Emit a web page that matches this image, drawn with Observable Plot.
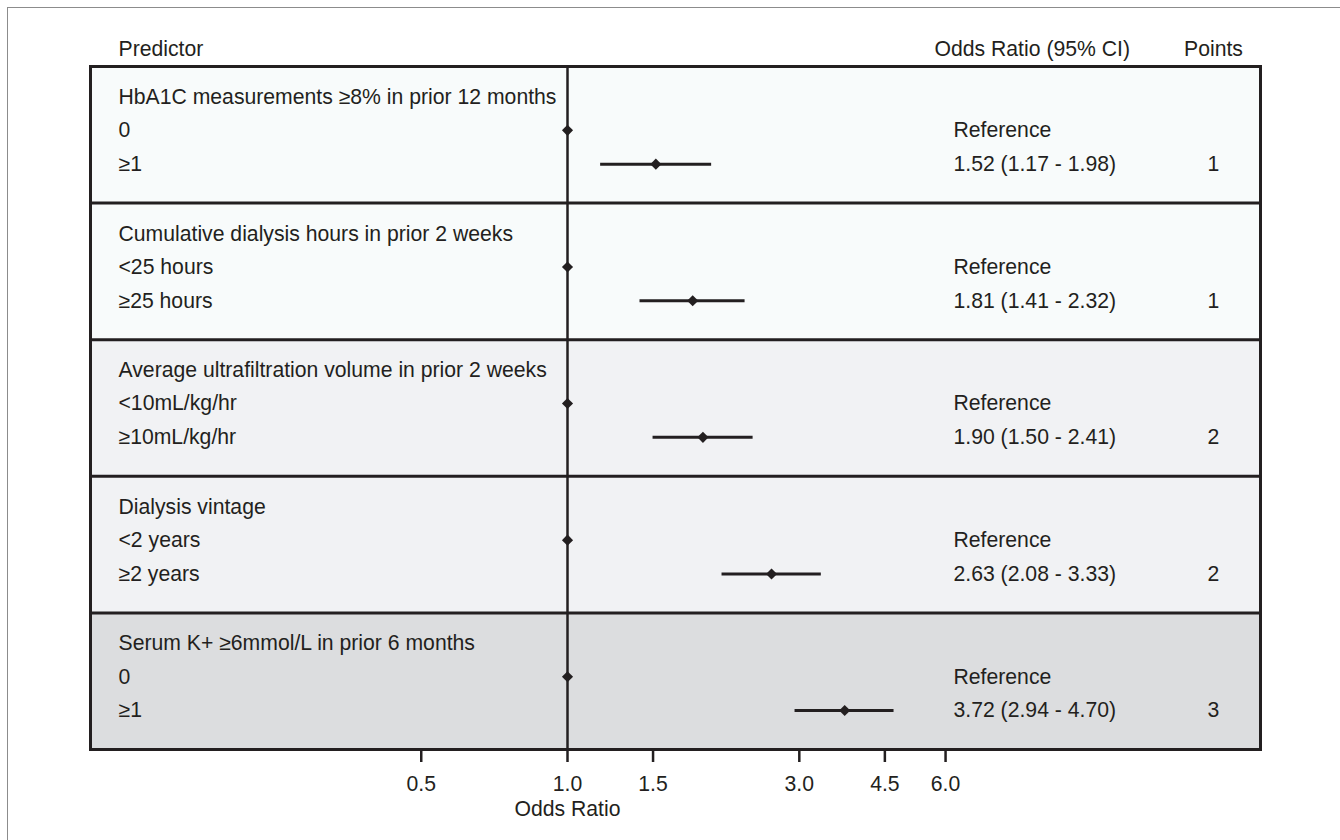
<!DOCTYPE html>
<html>
<head>
<meta charset="utf-8">
<script src="https://cdn.jsdelivr.net/npm/d3@7"></script>
<script src="https://cdn.jsdelivr.net/npm/@observablehq/plot@0.6"></script>
<style>
  body { margin: 0; background: #ffffff; }
  #wrap { position: relative; width: 1340px; height: 840px; overflow: hidden; }
  #border { position: absolute; left: 7px; top: 7px; right: -5px; bottom: -5px;
            border-top: 1px solid #8c8c8c; border-left: 1px solid #8c8c8c; }
  #chart { position: absolute; left: 0; top: 0; }
</style>
</head>
<body>
<div id="wrap"><div id="border"></div><div id="chart"></div></div>
<script>
// ---- data ----
const predictors = [
  "HbA1C measurements \u22658% in prior 12 months",
  "Cumulative dialysis hours in prior 2 weeks",
  "Average ultrafiltration volume in prior 2 weeks",
  "Dialysis vintage",
  "Serum K+ \u22656mmol/L in prior 6 months"
];
const referenceLevels = ["0", "<25 hours", "<10mL/kg/hr", "<2 years", "0"];
const comparisonLevels = ["\u22651", "\u226525 hours", "\u226510mL/kg/hr", "\u22652 years", "\u22651"];
const oddsRatios = [1.52, 1.81, 1.90, 2.63, 3.72];
const ciLower = [1.17, 1.41, 1.50, 2.08, 2.94];
const ciUpper = [1.98, 2.32, 2.41, 3.33, 4.70];
const points = [1, 1, 2, 2, 3];
const referenceOR = 1;
const xTicks = [0.5, 1.0, 1.5, 3.0, 4.5, 6.0];

// ---- styling / layout ----
const ink = "#231f20";
const panelFills = ["#f8fbfb", "#f8fbfb", "#f1f2f4", "#f1f2f4", "#dcdddf"];
const W = 1340, H = 840;
const mL = 90, mR = 80, mT = 66, mB = 91;
const unitsPerPanel = 4;
const nPanels = predictors.length;
// log scale: 1.0 at x=567, ~211 px per natural-log unit
const pxPerLn = 211, xOne = 567;
const xLo = Math.exp((mL - xOne) / pxPerLn);
const xHi = Math.exp((W - mR - xOne) / pxPerLn);
const font = "'Liberation Sans', Arial, Helvetica, sans-serif";
const fs = 21.2;

const panels = predictors.map((p, i) => ({
  top: i * unitsPerPanel, bottom: (i + 1) * unitsPerPanel, fill: panelFills[i]
}));
const headerRows = predictors.map((p, i) => ({ y: i * unitsPerPanel + 0.9, text: p }));
const refRows = referenceLevels.map((l, i) => ({ y: i * unitsPerPanel + 1.87, text: l, or: referenceOR }));
const compRows = comparisonLevels.map((l, i) => ({
  y: i * unitsPerPanel + 2.86, text: l, or: oddsRatios[i], lo: ciLower[i], hi: ciUpper[i],
  orText: `${oddsRatios[i].toFixed(2)} (${ciLower[i].toFixed(2)} - ${ciUpper[i].toFixed(2)})`,
  pts: String(points[i])
}));
const separators = d3.range(1, nPanels).map(i => i * unitsPerPanel);
const diamond = d3.symbolDiamond2 || "diamond";

const chart = Plot.plot({
  width: W, height: H,
  marginLeft: mL, marginRight: mR, marginTop: mT, marginBottom: mB,
  style: { fontFamily: font, fontSize: fs + "px", color: ink, background: "transparent", overflow: "visible" },
  x: { type: "log", domain: [xLo, xHi], axis: null },
  y: { domain: [0, nPanels * unitsPerPanel], range: [mT, H - mB], axis: null },
  marks: [
    Plot.rect(panels, { x1: () => xLo, x2: () => xHi, y1: "top", y2: "bottom", fill: "fill" }),
    Plot.ruleY(separators, { stroke: ink, strokeWidth: 3 }),
    Plot.ruleX([referenceOR], { y1: 0, y2: nPanels * unitsPerPanel, stroke: ink, strokeWidth: 2.5 }),
    Plot.frame({ stroke: ink, strokeWidth: 3 }),
    Plot.axisX(xTicks, {
      anchor: "bottom", tickSize: 13, tickPadding: 13, strokeWidth: 2.5,
      tickFormat: d => d.toFixed(1), color: ink, fontSize: fs, label: null
    }),
    Plot.text([referenceOR], { x: d => d, text: () => "Odds Ratio", frameAnchor: "bottom", lineAnchor: "middle", dy: 60, fill: ink, fontSize: fs }),
    // CI lines and diamonds
    Plot.ruleY(compRows, { y: "y", x1: "lo", x2: "hi", stroke: ink, strokeWidth: 3 }),
    Plot.dot(refRows.concat(compRows), { x: "or", y: "y", symbol: diamond, r: 5, fill: ink, stroke: "none" }),
    // left text column
    Plot.text(headerRows, { y: "y", text: "text", frameAnchor: "left", textAnchor: "start", lineAnchor: "middle", dx: 28, fill: ink, fontSize: fs }),
    Plot.text(refRows, { y: "y", text: "text", frameAnchor: "left", textAnchor: "start", lineAnchor: "middle", dx: 28, fill: ink, fontSize: fs }),
    Plot.text(compRows, { y: "y", text: "text", frameAnchor: "left", textAnchor: "start", lineAnchor: "middle", dx: 28, fill: ink, fontSize: fs }),
    // odds ratio column
    Plot.text(refRows, { y: "y", text: () => "Reference", frameAnchor: "left", textAnchor: "start", lineAnchor: "middle", dx: 863, fill: ink, fontSize: fs }),
    Plot.text(compRows, { y: "y", text: "orText", frameAnchor: "left", textAnchor: "start", lineAnchor: "middle", dx: 863, fill: ink, fontSize: fs }),
    // points column
    Plot.text(compRows, { y: "y", text: "pts", frameAnchor: "left", textAnchor: "middle", lineAnchor: "middle", dx: 1123, fill: ink, fontSize: fs }),
    // column headers
    Plot.text(["Predictor"], { frameAnchor: "top-left", textAnchor: "start", lineAnchor: "middle", dx: 28, dy: -17, fill: ink, fontSize: fs }),
    Plot.text(["Odds Ratio (95% CI)"], { frameAnchor: "top-left", textAnchor: "start", lineAnchor: "middle", dx: 844, dy: -17, fill: ink, fontSize: fs }),
    Plot.text(["Points"], { frameAnchor: "top-left", textAnchor: "middle", lineAnchor: "middle", dx: 1123, dy: -17, fill: ink, fontSize: fs })
  ]
});
document.getElementById("chart").appendChild(chart);
</script>
</body>
</html>
